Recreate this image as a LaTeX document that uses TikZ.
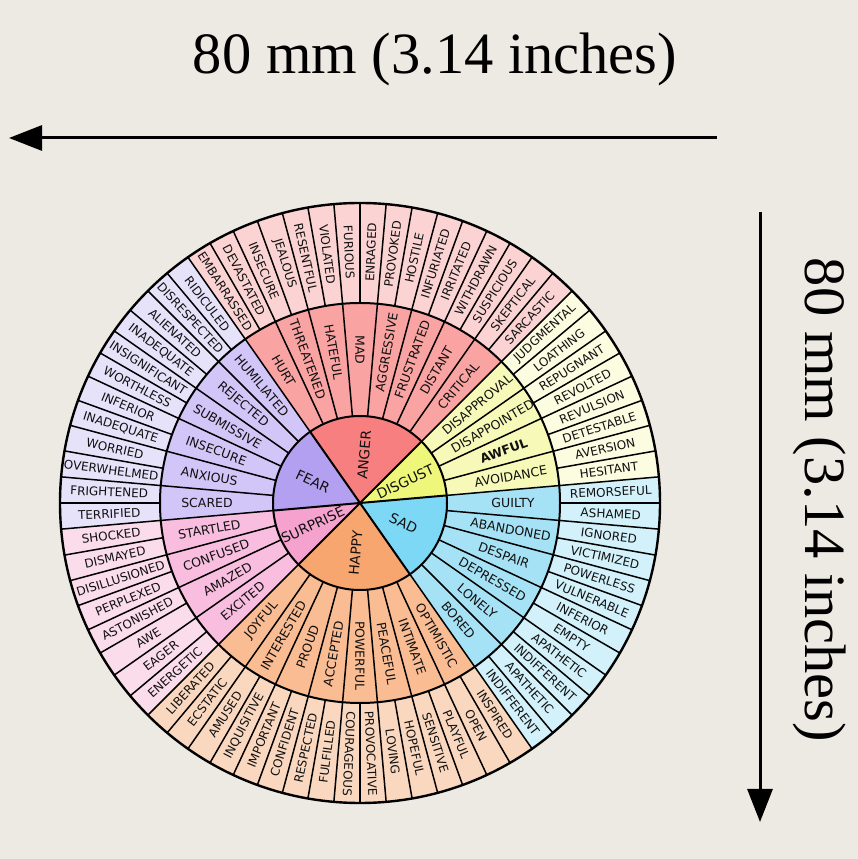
\documentclass[tikz,border=0pt]{standalone}
\usepackage{fontspec}
\setmainfont{Liberation Serif}
\newfontfamily\lab{DejaVu Sans}
\usetikzlibrary{arrows.meta}
\definecolor{bg}{HTML}{EDEAE4}
\definecolor{ink}{HTML}{111111}
\definecolor{anI}{HTML}{F77F7F}\definecolor{anM}{HTML}{F9A3A2}\definecolor{anO}{HTML}{FBD3D3}
\definecolor{dgI}{HTML}{EEF77A}\definecolor{dgM}{HTML}{F7F9B9}\definecolor{dgO}{HTML}{FBFCE0}
\definecolor{sdI}{HTML}{7DD8F5}\definecolor{sdM}{HTML}{A6E2F6}\definecolor{sdO}{HTML}{D3F1FB}
\definecolor{hpI}{HTML}{F8A66F}\definecolor{hpM}{HTML}{F9BC93}\definecolor{hpO}{HTML}{FAD8C0}
\definecolor{suI}{HTML}{F5A2CF}\definecolor{suM}{HTML}{F8BDDF}\definecolor{suO}{HTML}{FBDCEB}
\definecolor{feI}{HTML}{B3A0F0}\definecolor{feM}{HTML}{D2C6F8}\definecolor{feO}{HTML}{E6E2FA}
\tikzset{
 olab/.style={font=\lab\fontsize{12}{13}\selectfont, text=ink, inner sep=0pt},
 mlab/.style={font=\lab\fontsize{12.5}{13}\selectfont, text=ink, inner sep=0pt},
 ilab/.style={font=\lab\fontsize{13.8}{14}\selectfont, text=ink, inner sep=0pt},
 ring/.style={line width=2pt, draw=black},
 divider/.style={line width=1.5pt, draw=black},
 dimarrow/.style={line width=3pt, -{Triangle[length=33pt,width=25pt]}},
 dimtext/.style={font=\fontsize{58.5}{60}\selectfont, text=black, inner sep=0pt, anchor=base}
}
\def\outerlist{REMORSEFUL,HESITANT,AVERSION,DETESTABLE,REVULSION,REVOLTED,REPUGNANT,LOATHING,JUDGMENTAL,SARCASTIC,SKEPTICAL,SUSPICIOUS,WITHDRAWN,IRRITATED,INFURIATED,HOSTILE,PROVOKED,ENRAGED,FURIOUS,VIOLATED,RESENTFUL,JEALOUS,INSECURE,DEVASTATED,EMBARRASSED,RIDICULED,DISRESPECTED,ALIENATED,INADEQUATE,INSIGNIFICANT,WORTHLESS,INFERIOR,INADEQUATE,WORRIED,OVERWHELMED,FRIGHTENED,TERRIFIED,SHOCKED,DISMAYED,DISILLUSIONED,PERPLEXED,ASTONISHED,AWE,EAGER,ENERGETIC,LIBERATED,ECSTATIC,AMUSED,INQUISITIVE,IMPORTANT,CONFIDENT,RESPECTED,FULFILLED,COURAGEOUS,PROVOCATIVE,LOVING,HOPEFUL,SENSITIVE,PLAYFUL,OPEN,INSPIRED,INDIFFERENT,APATHETIC,INDIFFERENT,APATHETIC,EMPTY,INFERIOR,VULNERABLE,POWERLESS,VICTIMIZED,IGNORED,ASHAMED}
\def\middlelist{GUILTY,AVOIDANCE,{\bfseries AWFUL},DISAPPOINTED,DISAPPROVAL,CRITICAL,DISTANT,FRUSTRATED,AGGRESSIVE,MAD,HATEFUL,THREATENED,HURT,HUMILIATED,REJECTED,SUBMISSIVE,INSECURE,ANXIOUS,SCARED,STARTLED,CONFUSED,AMAZED,EXCITED,JOYFUL,INTERESTED,PROUD,ACCEPTED,POWERFUL,PEACEFUL,INTIMATE,OPTIMISTIC,BORED,LONELY,DEPRESSED,DESPAIR,ABANDONED}
\begin{document}
\begin{tikzpicture}[x=1pt,y=1pt]
\fill[bg] (0,0) rectangle (858,859);
\useasboundingbox (0,0) rectangle (858,859);
\begin{scope}[shift={(360,356)}]
 % fills
 \foreach \a/\b/\ci/\cm/\co in {5/45/dgI/dgM/dgO,45/125/anI/anM/anO,125/185/feI/feM/feO,185/225/suI/suM/suO,225/305/hpI/hpM/hpO,305/365/sdI/sdM/sdO}{
  \fill[\co] (0,0) -- (\a:300) arc[start angle=\a,end angle=\b,radius=300] -- cycle;
  \fill[\cm] (0,0) -- (\a:200) arc[start angle=\a,end angle=\b,radius=200] -- cycle;
  \fill[\ci] (0,0) -- (\a:87) arc[start angle=\a,end angle=\b,radius=87] -- cycle;
 }
 % dividers
 \foreach \k in {0,5,...,355} \draw[divider] (\k:200) -- (\k:300);
 \foreach \k in {5,15,...,355} \draw[divider] (\k:87) -- (\k:200);
 \foreach \k in {5,45,125,185,225,305} \draw[ring] (0,0) -- (\k:87);
 \draw[ring] (0,0) circle[radius=87];
 \draw[ring] (0,0) circle[radius=200];
 \draw[line width=2.4pt] (0,0) circle[radius=300];
 % outer labels
 \foreach \t [count=\i from 0] in \outerlist {
  \pgfmathsetmacro\myang{5*\i+2.5}
  \pgfmathsetmacro\myth{ifthenelse(\myang>180,\myang-360,\myang)}
  \pgfmathsetmacro\myrot{ifthenelse(and(\myth>-95,\myth<90),\myth,\myth+180)}
  \node[olab, rotate=\myrot] (o\i) at (\myang:251) {\t};
 }
 % middle labels
 \foreach \t [count=\i from 0] in \middlelist {
  \pgfmathsetmacro\myang{10*\i}
  \pgfmathsetmacro\myth{ifthenelse(\myang>180,\myang-360,\myang)}
  \pgfmathsetmacro\myrot{ifthenelse(and(\myth>-95,\myth<90),\myth,\myth+180)}
  \node[mlab, rotate=\myrot] (m\i) at (\myang:153) {\t};
 }
 % inner labels
 \node[ilab, rotate=25] (disgust) at (25:50) {DISGUST};
 \node[ilab, rotate=85] (anger) at (85:48) {ANGER};
 \node[ilab, rotate=-25] (fear) at (155:52) {FEAR};
 \node[ilab, rotate=25] (surprise) at (205:52) {SURPRISE};
 \node[ilab, rotate=85] (happy) at (265:50) {HAPPY};
 \node[ilab, rotate=-25] (sad) at (335:48) {SAD};
\end{scope}
% dimensions
\node[dimtext] (toplab) at (435,785) {80 mm (3.14 inches)};
\node[dimtext, rotate=-90] (rightlab) at (805,359) {80 mm (3.14 inches)};
\coordinate (hs) at (717,721);
\coordinate (he) at (9,721);
\coordinate (vs) at (760,647);
\coordinate (ve) at (760,37);
\draw[dimarrow] (hs) -- (he);
\draw[dimarrow] (vs) -- (ve);
\end{tikzpicture}
\end{document}
